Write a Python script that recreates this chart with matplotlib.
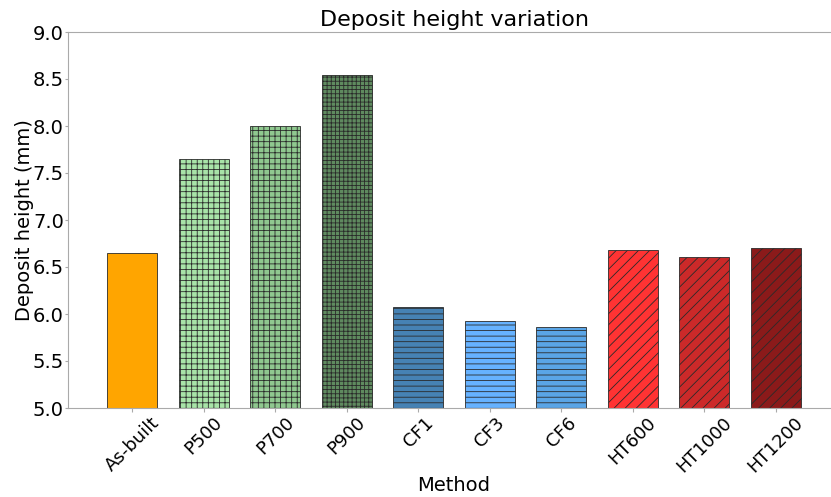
import matplotlib.pyplot as plt
import numpy as np

methods = ["As-built", "P500", "P700", "P900", "CF1", "CF3", "CF6",
           "HT600", "HT1000", "HT1200"]
heights = [6.65, 7.65, 8.00, 8.54, 6.07, 5.93, 5.86, 6.68, 6.61, 6.70]
colors = ["#ffa500", "#a8e4a8", "#8fc88f", "#5f8a5f", "#4682b4",
          "#66b2ff", "#5aa5e6", "#ff3333", "#cc2929", "#8b1a1a"]
hatches = ["", "+++", "+++", "++++", "---", "---", "---", "///", "///", "///"]

plt.rcParams["hatch.linewidth"] = 0.6

fig = plt.figure(figsize=(8.31, 4.97), dpi=100)
ax = fig.add_axes([68 / 831, 89 / 497, 772 / 831, 376 / 497])

x = np.arange(len(methods))
for i in range(len(methods)):
    ax.bar(x[i], heights[i], width=0.7, color=colors[i], hatch=hatches[i],
           edgecolor="#2a2a2a", linewidth=0.6)

ax.set_xlim(-0.9, 9.9)
ax.set_ylim(5.0, 9.0)
ax.set_yticks(np.arange(5.0, 9.01, 0.5))
ax.set_xticks(x)
ax.set_xticklabels(methods, rotation=45, fontsize=13)
ax.tick_params(axis="x", pad=1, length=3)
ax.tick_params(axis="y", labelsize=14, pad=1, length=2)
ax.tick_params(axis="both", color="#aaaaaa")

for side in ["left", "top", "bottom", "right"]:
    ax.spines[side].set_color("#aaaaaa")

ax.set_title("Deposit height variation", fontsize=16, pad=4)
ax.set_xlabel("Method", fontsize=14, labelpad=0)
ax.set_ylabel("Deposit height (mm)", fontsize=14, labelpad=-1)

fig.savefig("out.png", dpi=100)
